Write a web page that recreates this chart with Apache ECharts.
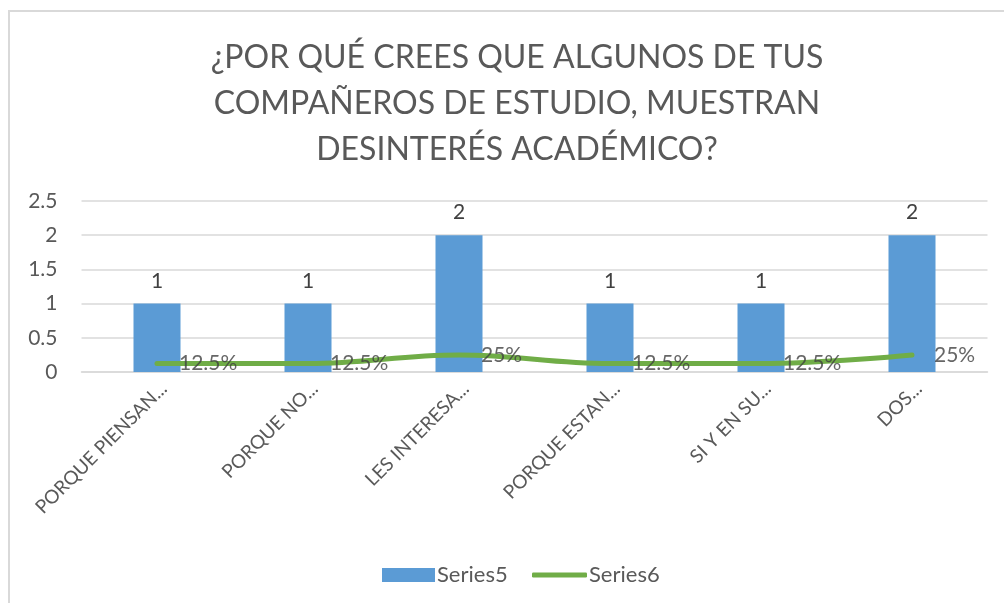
<!DOCTYPE html>
<html>
<head>
<meta charset="utf-8">
<script src="https://cdn.jsdelivr.net/npm/echarts@6/dist/echarts.min.js"></script>
<style>html,body{margin:0;padding:0;background:#fff;}#c{width:1004px;height:603px;}</style>
</head>
<body>
<div id="c"></div>
<script>
const titleText = "¿POR QUÉ CREES QUE ALGUNOS DE TUS\nCOMPAÑEROS DE ESTUDIO, MUESTRAN\nDESINTERÉS ACADÉMICO?";
const categories = ["PORQUE PIENSAN...", "PORQUE NO...", "LES INTERESA...", "PORQUE ESTAN...", "SI Y EN SU...", "DOS..."];
const series5 = [1, 1, 2, 1, 1, 2];
const series6 = [0.125, 0.125, 0.25, 0.125, 0.125, 0.25];
const yTicks = { min: 0, max: 2.5, interval: 0.5 };

const FONT = 'Lato';
const GREY = '#595959';
const chart = echarts.init(document.getElementById('c'));
chart.setOption({
  animation: false,
  textStyle: { fontFamily: FONT },
  graphic: [{
    type: 'rect', shape: { x: 9, y: 11, width: 1010, height: 600 },
    style: { fill: 'none', stroke: '#d9d9d9', lineWidth: 2 }, silent: true, z: -1
  }],
  title: {
    text: titleText, left: 512, top: 30, textAlign: 'center',
    textStyle: { fontFamily: FONT, fontSize: 32, fontWeight: 'normal', color: GREY, lineHeight: 46 }
  },
  legend: [{
    left: 377, top: 559, itemWidth: 53, itemHeight: 14,
    textStyle: { fontFamily: FONT, fontSize: 22, color: GREY, padding: [0, 0, 0, -3] },
    data: [{ name: 'Series5', icon: 'rect' }]
  }, {
    left: 527, top: 559, itemWidth: 55, itemHeight: 5,
    textStyle: { fontFamily: FONT, fontSize: 22, color: GREY, padding: [0, 0, 0, -3] },
    data: [{ name: 'Series6', icon: 'roundRect' }]
  }],
  grid: { left: 81.5, right: 16.5, top: 201, bottom: 231, outerBoundsMode: 'none', containLabel: false },
  xAxis: {
    type: 'category', data: categories,
    axisLine: { lineStyle: { color: '#d9d9d9', width: 1.5 } },
    axisTick: { show: false },
    axisLabel: { rotate: 45, interval: 0, fontSize: 19, color: GREY, margin: 7, verticalAlign: 'top', align: 'right', fontFamily: FONT }
  },
  yAxis: {
    type: 'value', min: yTicks.min, max: yTicks.max, interval: yTicks.interval,
    axisLine: { show: false }, axisTick: { show: false },
    splitLine: { lineStyle: { color: '#d9d9d9', width: 1.5 } },
    axisLabel: { fontSize: 21, color: GREY, margin: 24, fontFamily: FONT }
  },
  series: [{
    name: 'Series5', type: 'bar', data: series5, barWidth: 47,
    itemStyle: { color: '#5B9BD5' },
    label: { show: true, position: 'top', distance: 12, fontSize: 21, color: '#404040', fontFamily: FONT }
  }, {
    name: 'Series6', type: 'line', data: series6, smooth: 0.4, symbol: 'none',
    lineStyle: { color: '#70AD47', width: 5, cap: 'round' }, itemStyle: { color: '#70AD47' },
    z: 3
  }, {
    name: 'Series6 labels', type: 'scatter', data: series6, symbolSize: 0, silent: true,
    label: { show: true, position: 'right', distance: 22, fontSize: 21, color: '#404040', fontFamily: FONT,
      formatter: p => (p.value * 100) + '%' },
    z: 4
  }]
});
</script>
</body>
</html>
